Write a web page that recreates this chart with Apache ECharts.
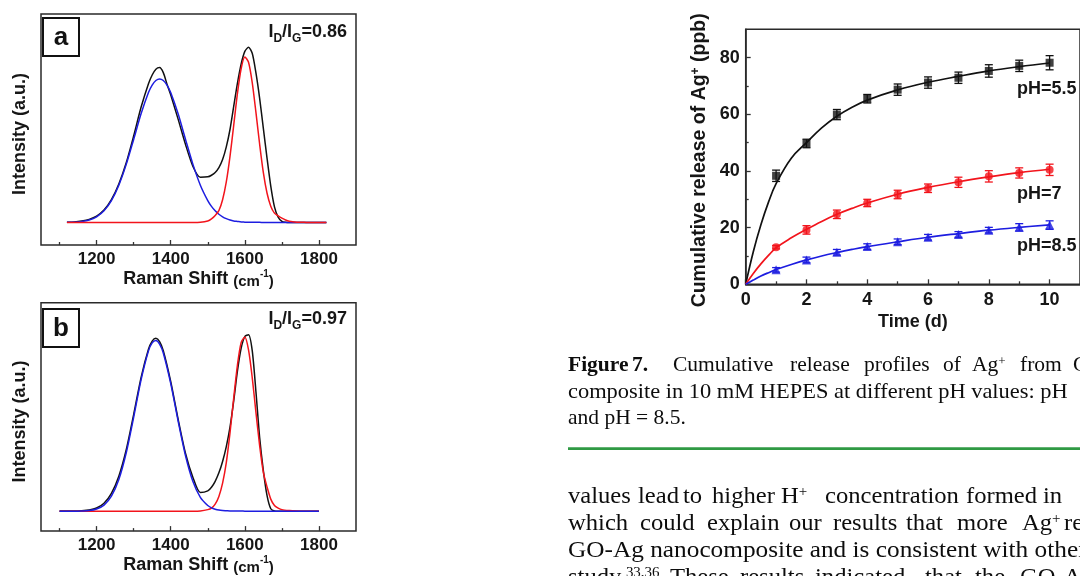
<!DOCTYPE html>
<html><head><meta charset="utf-8">
<script src="https://cdn.jsdelivr.net/npm/echarts@6/dist/echarts.min.js"></script>
<style>html,body{margin:0;padding:0;background:#fff}#c{width:1080px;height:576px}</style>
</head><body><div id="c"></div>
<script>
// ---------- Panel a (Raman) ----------
const ramanA_x = [1120,1140,1160,1180,1200,1220,1240,1260,1280,1300,1320,1340,1350,1360,1370,1380,1390,1400,1420,1440,1460,1480,1500,1510,1520,1530,1540,1550,1560,1570,1580,1590,1600,1610,1620,1630,1640,1650,1660,1670,1680,1690,1700,1710,1720,1740,1760,1780,1800,1820];
const ramanA_black = [9.9,10.0,10.4,11.1,12.5,15.1,19.6,26.4,35.6,47.2,59.6,69.8,73.6,76.1,76.8,74.6,69.6,65.0,54.5,43.5,34.0,29.3,29.5,30.2,31.4,33.5,37.0,42.5,50.0,60.0,70.0,78.3,83.8,85.6,83.0,74.5,63.5,50.5,37.5,25.5,16.5,12.0,10.2,9.8,9.7,9.7,9.7,9.7,9.7,9.7];
const ramanA_blue = [9.8,9.9,10.2,10.8,12.2,14.8,19.2,25.9,34.9,45.7,56.8,66.0,69.2,71.2,71.9,71.2,69.2,66.0,56.8,45.7,34.9,25.9,19.2,16.7,14.8,13.3,12.2,11.4,10.8,10.4,10.2,10.0,9.9,9.8,9.8,9.8,9.8,9.7,9.7,9.7,9.7,9.7,9.7,9.7,9.7,9.7,9.7,9.7,9.7,9.7];
const ramanA_red = [9.7,9.7,9.7,9.7,9.7,9.7,9.7,9.7,9.7,9.7,9.7,9.7,9.7,9.7,9.7,9.7,9.7,9.7,9.7,9.7,9.7,9.8,10.4,11.3,12.8,14.9,19.6,27.3,38.4,51.8,65.5,76.3,81.4,79.1,70.3,57.4,43.6,31.3,22.4,16.8,13.8,12.6,11.6,10.8,10.3,9.9,9.8,9.7,9.7,9.7];
const ratioA = '0.86';

// ---------- Panel b (Raman) ----------
const ramanB_x = [1100,1120,1140,1160,1180,1200,1220,1240,1260,1280,1300,1320,1340,1350,1360,1370,1380,1400,1420,1440,1460,1480,1500,1510,1520,1530,1540,1550,1560,1570,1580,1590,1600,1610,1620,1630,1640,1650,1660,1670,1680,1690,1700,1720,1740,1760,1780,1800];
const ramanB_black = [8.8,8.8,8.8,8.9,9.2,10.1,12.2,16.5,24.0,35.6,51.0,67.2,79.6,83.2,84.4,83.0,79.0,65.5,49.0,34.0,23.5,16.9,17.6,19.2,21.8,25.5,30.5,37.0,45.5,57.0,70.0,80.0,85.2,86.0,79.0,61.0,41.0,26.5,15.5,9.8,8.8,8.7,8.7,8.7,8.7,8.7,8.7,8.7];
const ramanB_blue = [8.7,8.7,8.7,8.8,9.0,9.7,11.4,15.3,22.6,34.3,49.8,66.2,78.9,82.4,83.4,81.9,78.0,64.7,48.2,33.0,21.7,14.8,11.2,10.2,9.6,9.2,9.0,8.9,8.8,8.8,8.8,8.8,8.7,8.7,8.7,8.7,8.7,8.7,8.7,8.7,8.7,8.7,8.7,8.7,8.7,8.7,8.7,8.7];
const ramanB_red = [8.7,8.7,8.7,8.7,8.7,8.7,8.7,8.7,8.7,8.7,8.7,8.7,8.7,8.7,8.7,8.7,8.7,8.7,8.7,8.7,8.7,8.8,9.4,10.1,11.8,15.2,21.0,30.0,43.0,58.2,72.6,82.5,85.0,79.3,67.2,52.0,37.4,25.7,19.3,14.0,11.2,10.1,9.4,9.0,8.8,8.7,8.7,8.7];
const ratioB = '0.97';
const ramanMajorTicks = [1200,1400,1600,1800];
const ramanMinorTicks = [1100,1300,1500,1700];

// ---------- Release profiles ----------
const days = [1,2,3,4,5,6,7,8,9,10];
const ph55 = [38.3,49.7,59.9,65.5,68.7,71.2,72.9,75.3,77.1,78.2];
const ph55Err = [2.0,1.5,1.8,1.5,2.0,2.0,2.0,2.2,2.0,2.5];
const ph7 = [13.1,19.2,24.7,28.7,31.7,33.9,36.0,38.1,39.3,40.4];
const ph7Err = [0.6,1.5,1.5,1.3,1.5,1.5,1.8,2.0,1.8,2.0];
const ph85 = [5.1,8.6,11.3,13.3,15.0,16.6,17.6,19.1,20.1,20.9];
const ph85Err = [0.8,1.0,1.0,1.0,1.0,1.0,1.0,1.0,1.3,1.5];
const fitT = [0,0.25,0.5,0.75,1,1.5,2,2.5,3,3.5,4,5,6,7,8,9,10];
const fit55 = [0,11.5,21,29,35.5,44.5,50,55.2,59.3,62.5,65.0,68.6,71.3,73.4,75.3,76.8,78.1];
const fit7 = [0,3.8,7.2,10.2,12.9,16.4,19.4,22.2,24.7,26.8,28.7,31.8,34.2,36.2,37.9,39.4,40.6];
const fit85 = [0,1.5,2.9,4.1,5.2,7.0,8.6,10.0,11.2,12.3,13.3,15.0,16.6,17.9,19.1,20.1,21.0];
const releaseXTicks = [0,2,4,6,8,10];
const releaseXMinor = [1,3,5,7,9];
const releaseYTicks = [0,20,40,60,80];
const releaseYMinor = [10,30,50,70];
const seriesLabels = ['pH=5.5','pH=7','pH=8.5'];

// ---------- Text ----------
const captionLines = [
  [['Figure',568,1],['7.',632,1],['Cumulative',673],['release',790],['profiles',864],['of',943],['Ag{s|+}',972],['from',1020],['GO-Ag',1073]],
  [['composite in 10 mM HEPES at different pH values: pH',568,0,1.043]],
  [['and pH = 8.5.',568]]
];
const bodyLines = [
  [['values',568],['lead',638],['to',683],['higher',712],['H{s|+}',781],['concentration',825],['formed',966],['in',1043]],
  [['which',568],['could',640],['explain',707],['our',789],['results',833],['that',906],['more',957],['Ag{s|+}',1022],['released',1064]],
  [['GO-Ag nanocomposite and is consistent with other',568,0,1.1]],
  [['study.{s|33,36}',568],['These',670],['results',740],['indicated',815],['that',925],['the',975],['GO-Ag',1020]]
];

const SANS = '"Liberation Sans", Arial, sans-serif';
const SERIF = '"Liberation Serif", "Times New Roman", serif';
const INK = '#161616';
const TXT = '#0d0d0d';

const chart = echarts.init(document.getElementById('c'), null, {renderer:'canvas', width:1080, height:576});

const pair = (xs, ys) => xs.map((x,i)=>[x, ys[i]]);
const plain = v => String(v);

function ramanXAxes(gi){
  return [
    {gridIndex:gi, type:'value', min:1050, max:1900, position:'bottom',
     axisLine:{show:false}, splitLine:{show:false},
     axisTick:{inside:true, length:5, customValues:ramanMajorTicks, lineStyle:{color:'#333', width:1.3}},
     axisLabel:{customValues:ramanMajorTicks, formatter:plain, margin:6, fontSize:17, fontWeight:'bold', fontFamily:SANS, color:INK},
     name:'Raman Shift {p|(cm}{s|-1}{p|)}', nameLocation:'middle', nameGap:19,
     nameTextStyle:{fontSize:18, fontWeight:'bold', fontFamily:SANS, color:INK,
       rich:{p:{fontSize:15, fontWeight:'bold', fontFamily:SANS, color:INK, lineHeight:20, verticalAlign:'bottom'},
             s:{fontSize:10, fontWeight:'bold', fontFamily:SANS, color:INK, lineHeight:10, verticalAlign:'top'}}}},
    {gridIndex:gi, type:'value', min:1050, max:1900, position:'bottom',
     axisLine:{show:false}, splitLine:{show:false}, axisLabel:{show:false},
     axisTick:{inside:true, length:3, customValues:ramanMinorTicks, lineStyle:{color:'#333', width:1.3}}}
  ];
}
function ramanYAxis(gi){
  return {gridIndex:gi, type:'value', min:0, max:100, axisLine:{show:false}, axisTick:{show:false},
    axisLabel:{show:false}, splitLine:{show:false},
    name:'Intensity (a.u.)', nameLocation:'middle', nameGap:12,
    nameTextStyle:{fontSize:18, fontWeight:'bold', fontFamily:SANS, color:INK, padding:[0,9,0,0]}};
}

function errRender(color){
  return function(params, api){
    const x = api.value(0), y = api.value(1), e = api.value(2);
    const p1 = api.coord([x, y+e]), p2 = api.coord([x, y-e]);
    const w = 4, st = {stroke:color, lineWidth:1.3};
    return {type:'group', children:[
      {type:'line', shape:{x1:p1[0], y1:p1[1], x2:p2[0], y2:p2[1]}, style:st},
      {type:'line', shape:{x1:p1[0]-w, y1:p1[1], x2:p1[0]+w, y2:p1[1]}, style:st},
      {type:'line', shape:{x1:p2[0]-w, y1:p2[1], x2:p2[0]+w, y2:p2[1]}, style:st}
    ]};
  };
}

const BLK = '#111111', RED = '#f2141c', BLU = '#1d1de0';

function ramanLine(xs, ys, color, xi, yi, z){
  return {type:'line', xAxisIndex:xi, yAxisIndex:yi, data:pair(xs, ys), showSymbol:false, smooth:0.25,
    lineStyle:{color, width:1.5}, z, silent:true, clip:false};
}

const series = [
  ramanLine(ramanA_x, ramanA_black, BLK, 0, 0, 2),
  ramanLine(ramanA_x, ramanA_blue, BLU, 0, 0, 3),
  ramanLine(ramanA_x, ramanA_red, RED, 0, 0, 4),
  ramanLine(ramanB_x, ramanB_black, BLK, 2, 1, 2),
  ramanLine(ramanB_x, ramanB_red, RED, 2, 1, 3),
  ramanLine(ramanB_x, ramanB_blue, BLU, 2, 1, 4),
];
const rel = [[ph55, ph55Err, fit55, BLK, 'rect', 8], [ph7, ph7Err, fit7, RED, 'circle', 8], [ph85, ph85Err, fit85, BLU, 'triangle', 9]];
rel.forEach(([v, e, f, c, sym, sz]) => {
  series.push({type:'line', xAxisIndex:4, yAxisIndex:2, data:pair(fitT, f), showSymbol:false, smooth:0.4,
    lineStyle:{color:c, width:1.7}, z:2});
  series.push({type:'custom', xAxisIndex:4, yAxisIndex:2, renderItem:errRender(c),
    data:days.map((d,i)=>[d, v[i], e[i]]), z:3});
  series.push({type:'scatter', xAxisIndex:4, yAxisIndex:2, data:pair(days, v), symbol:sym, symbolSize:sz,
    itemStyle:{color:c}, z:4});
});

// graphics
const graphics = [];
function panelLabel(letter, x, y, ratio, ry){
  graphics.push({type:'rect', shape:{x:x, y:y, width:36, height:38}, style:{fill:'#fff', stroke:'#111', lineWidth:2}, z:10});
  graphics.push({type:'text', x:x+18, y:y+20, style:{text:letter, font:'bold 26px '+SANS, fill:'#111', align:'center', verticalAlign:'middle'}, z:11});
  graphics.push({type:'text', x:347, y:ry, z:11, style:{
    text:'{b|I}{s|D}{b|/I}{s|G}{b|='+ratio+'}', align:'right', verticalAlign:'middle',
    rich:{b:{font:'bold 18px '+SANS, fill:INK, lineHeight:20, verticalAlign:'bottom'},
          s:{font:'bold 12px '+SANS, fill:INK, lineHeight:13, verticalAlign:'bottom', padding:[0,0,-4,0]}}}});
}
panelLabel('a', 43, 18, ratioA, 31);
panelLabel('b', 43, 309, ratioB, 318);

// pH labels next to curves
[[seriesLabels[0],89],[seriesLabels[1],194],[seriesLabels[2],246]].forEach(([t,y])=>{
  graphics.push({type:'text', x:1017, y:y, style:{text:t, font:'bold 18px '+SANS, fill:INK, align:'left', verticalAlign:'middle'}});
});

function addLines(lines, y0, dy, size, sx){
  lines.forEach((words, li) => {
    const base = y0 + li*dy;
    words.forEach(([w, x, bold, wsx]) => {
      graphics.push({type:'text', x:x, y:base - 0.34*size, scaleX:(wsx||sx), style:{
        text:w, font:(bold?'bold ':'')+size+'px '+SERIF, fill:TXT, align:'left', verticalAlign:'middle',
        rich:{s:{font:Math.round(size*0.6)+'px '+SERIF, fill:TXT, verticalAlign:'top', lineHeight:Math.round(size*0.6)}}}});
    });
  });
}
addLines(captionLines, 373, 26.5, 21.5, 1);
addLines(bodyLines, 505, 27, 23, 1.07);
graphics.push({type:'rect', shape:{x:568, y:447.3, width:520, height:2.6}, style:{fill:'#2f9a44'}});

chart.setOption({
  animation:false,
  backgroundColor:'#fff',
  grid:[
    {left:41, top:14, width:315, height:231, show:true, borderColor:'#2a2a2a', borderWidth:1.5, backgroundColor:'transparent'},
    {left:41, top:302.7, width:315, height:229, show:true, borderColor:'#2a2a2a', borderWidth:1.5, backgroundColor:'transparent'},
    {left:745.7, top:29.3, width:342.8, height:255, show:true, borderColor:'#2a2a2a', borderWidth:1.5, backgroundColor:'transparent'}
  ],
  xAxis:[
    ...ramanXAxes(0), ...ramanXAxes(1),
    {gridIndex:2, type:'value', min:0, max:11, position:'bottom', splitLine:{show:false},
     axisLine:{show:true, lineStyle:{color:'#2a2a2a', width:1.5}},
     axisTick:{inside:true, length:5, customValues:releaseXTicks, lineStyle:{color:'#333', width:1.3}},
     axisLabel:{customValues:releaseXTicks, formatter:plain, margin:7, fontSize:18, fontWeight:'bold', fontFamily:SANS, color:INK},
     name:'Time (d)', nameLocation:'middle', nameGap:29,
     nameTextStyle:{fontSize:18, fontWeight:'bold', fontFamily:SANS, color:INK}},
    {gridIndex:2, type:'value', min:0, max:11, position:'bottom', splitLine:{show:false}, axisLine:{show:false},
     axisLabel:{show:false}, axisTick:{inside:true, length:3, customValues:releaseXMinor, lineStyle:{color:'#333', width:1.3}}}
  ],
  yAxis:[
    ramanYAxis(0), ramanYAxis(1),
    {gridIndex:2, type:'value', min:0, max:90, position:'left', splitLine:{show:false},
     axisLine:{show:true, lineStyle:{color:'#2a2a2a', width:1.5}},
     axisTick:{inside:true, length:5, customValues:releaseYTicks, lineStyle:{color:'#333', width:1.3}},
     axisLabel:{customValues:releaseYTicks, formatter:plain, margin:6, fontSize:18, fontWeight:'bold', fontFamily:SANS, color:INK},
     name:'Cumulative release of Ag{s|+} (ppb)', nameLocation:'middle', nameGap:36,
     nameTextStyle:{fontSize:19.5, fontWeight:'bold', fontFamily:SANS, color:INK, padding:[0,7,0,0],
       rich:{s:{fontSize:12, fontWeight:'bold', fontFamily:SANS, color:INK, lineHeight:12, verticalAlign:'top'}}}},
    {gridIndex:2, type:'value', min:0, max:90, position:'left', splitLine:{show:false}, axisLine:{show:false},
     axisLabel:{show:false}, axisTick:{inside:true, length:3, customValues:releaseYMinor, lineStyle:{color:'#333', width:1.3}}}
  ],
  series:series,
  graphic:graphics
});
</script></body></html>
